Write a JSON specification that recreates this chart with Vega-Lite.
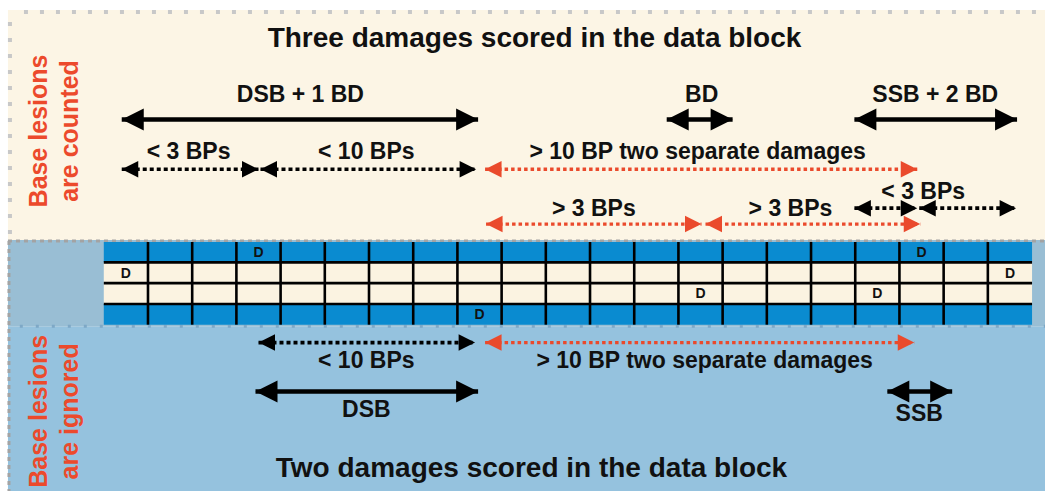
{
  "$schema": "https://vega.github.io/schema/vega-lite/v6.json",
  "width": 1047,
  "height": 493,
  "autosize": {"type": "fit", "contains": "padding"},
  "padding": 0,
  "background": "white",
  "config": {"view": {"stroke": null}, "text": {"font": "Liberation Sans", "fontWeight": "bold"}},
  "datasets": {
    "panels": [
      {"zone": "top", "x1": -2.168, "x2": 21.293, "y1": 10, "y2": 241},
      {"zone": "middle", "x1": -2.168, "x2": 21.293, "y1": 241, "y2": 328},
      {"zone": "bottom", "x1": -2.168, "x2": 21.293, "y1": 328, "y2": 493}
    ],
    "frame": [
      {"style": "dots", "x1": -1.806, "x2": 21.293, "y1": 12, "y2": 12},
      {"style": "dots", "x1": -2.123, "x2": -2.123, "y1": 22, "y2": 238},
      {"style": "dashes", "x1": -2.168, "x2": 21.293, "y1": 242, "y2": 242},
      {"style": "dashes", "x1": -2.145, "x2": -2.145, "y1": 242, "y2": 493},
      {"style": "bluedots", "x1": -1.9, "x2": 21.293, "y1": 327.5, "y2": 327.5}
    ],
    "strands": [
      {"strand": "backbone", "x1": 0, "x2": 21, "y1": 243, "y2": 263.4},
      {"strand": "base", "x1": 0, "x2": 21, "y1": 263.4, "y2": 284.3},
      {"strand": "base", "x1": 0, "x2": 21, "y1": 284.3, "y2": 305.3},
      {"strand": "backbone", "x1": 0, "x2": 21, "y1": 305.3, "y2": 326}
    ],
    "vlines": [
      {"x": 1, "y1": 243, "y2": 326}, {"x": 2, "y1": 243, "y2": 326},
      {"x": 3, "y1": 243, "y2": 326}, {"x": 4, "y1": 243, "y2": 326},
      {"x": 5, "y1": 243, "y2": 326}, {"x": 6, "y1": 243, "y2": 326},
      {"x": 7, "y1": 243, "y2": 326}, {"x": 8, "y1": 243, "y2": 326},
      {"x": 9, "y1": 243, "y2": 326}, {"x": 10, "y1": 243, "y2": 326},
      {"x": 11, "y1": 243, "y2": 326}, {"x": 12, "y1": 243, "y2": 326},
      {"x": 13, "y1": 243, "y2": 326}, {"x": 14, "y1": 243, "y2": 326},
      {"x": 15, "y1": 243, "y2": 326}, {"x": 16, "y1": 243, "y2": 326},
      {"x": 17, "y1": 243, "y2": 326}, {"x": 18, "y1": 243, "y2": 326},
      {"x": 19, "y1": 243, "y2": 326}, {"x": 20, "y1": 243, "y2": 326}
    ],
    "hlines": [
      {"y": 263.4, "x1": 0, "x2": 21},
      {"y": 284.3, "x1": 0, "x2": 21},
      {"y": 305.3, "x1": 0, "x2": 21}
    ],
    "damages": [
      {"x": 0.5, "y": 274.9, "t": "D"},
      {"x": 3.5, "y": 254.2, "t": "D"},
      {"x": 8.5, "y": 316.4, "t": "D"},
      {"x": 13.5, "y": 295.6, "t": "D"},
      {"x": 17.5, "y": 295.6, "t": "D"},
      {"x": 18.5, "y": 254.2, "t": "D"},
      {"x": 20.5, "y": 274.9, "t": "D"}
    ],
    "arrows": [
      {"style": "solid", "x1": 0.406, "x2": 8.468, "y": 120},
      {"style": "solid", "x1": 12.735, "x2": 14.226, "y": 120},
      {"style": "solid", "x1": 16.981, "x2": 20.661, "y": 120},
      {"style": "dotted", "x1": 0.406, "x2": 3.5, "y": 170},
      {"style": "dotted", "x1": 3.545, "x2": 8.423, "y": 170},
      {"style": "red", "x1": 8.626, "x2": 18.403, "y": 170},
      {"style": "dotted", "x1": 16.981, "x2": 18.403, "y": 209},
      {"style": "dotted", "x1": 18.448, "x2": 20.639, "y": 209},
      {"style": "red", "x1": 8.648, "x2": 13.522, "y": 225},
      {"style": "red", "x1": 13.613, "x2": 18.471, "y": 225},
      {"style": "dotted", "x1": 3.5, "x2": 8.4, "y": 344},
      {"style": "red", "x1": 8.626, "x2": 18.335, "y": 344},
      {"style": "solid", "x1": 3.432, "x2": 8.468, "y": 393},
      {"style": "solid", "x1": 17.726, "x2": 19.193, "y": 393}
    ],
    "labels": [
      {"t": "DSB + 1 BD", "x": 4.448, "y": 102},
      {"t": "BD", "x": 13.526, "y": 102},
      {"t": "SSB + 2 BD", "x": 18.81, "y": 102},
      {"t": "< 3 BPs", "x": 1.919, "y": 160},
      {"t": "< 10 BPs", "x": 5.939, "y": 160},
      {"t": "> 10 BP two separate damages", "x": 13.435, "y": 160},
      {"t": "< 3 BPs", "x": 18.538, "y": 199.5},
      {"t": "> 3 BPs", "x": 11.087, "y": 217},
      {"t": "> 3 BPs", "x": 15.535, "y": 217},
      {"t": "< 10 BPs", "x": 5.939, "y": 370},
      {"t": "> 10 BP two separate damages", "x": 13.594, "y": 370},
      {"t": "DSB", "x": 5.939, "y": 419},
      {"t": "SSB", "x": 18.448, "y": 423}
    ],
    "titles": [
      {"t": "Three damages scored in the data block", "x": 9.744, "y": 47},
      {"t": "Two damages scored in the data block", "x": 9.676, "y": 479}
    ],
    "side": [
      {"t": "Base lesions", "x": -1.283, "y": 131.5},
      {"t": "are counted", "x": -0.576, "y": 131.5},
      {"t": "Base lesions", "x": -1.283, "y": 413},
      {"t": "are ignored", "x": -0.576, "y": 413}
    ]
  },
  "layer": [
    {
      "data": {"name": "panels"},
      "mark": {"type": "rect"},
      "encoding": {
        "x": {"field": "x1", "type": "quantitative", "scale": {"domain": [-2.348, 21.293], "nice": false, "zero": false}, "axis": null},
        "x2": {"field": "x2"},
        "y": {"field": "y1", "type": "quantitative", "scale": {"domain": [0, 493], "reverse": true, "nice": false, "zero": false}, "axis": null},
        "y2": {"field": "y2"},
        "fill": {"field": "zone", "type": "nominal", "scale": {"domain": ["top", "middle", "bottom"], "range": ["#fcf5e5", "#99bed4", "#95c2de"]}, "legend": null}
      }
    },
    {
      "data": {"name": "frame"},
      "transform": [{"filter": "datum.style === 'dots'"}],
      "mark": {"type": "rule", "color": "#c8c8c8", "strokeWidth": 4, "strokeDash": [4, 12]},
      "encoding": {
        "x": {"field": "x1", "type": "quantitative", "axis": null},
        "x2": {"field": "x2"},
        "y": {"field": "y1", "type": "quantitative", "axis": null},
        "y2": {"field": "y2"}
      }
    },
    {
      "data": {"name": "frame"},
      "transform": [{"filter": "datum.style === 'dashes'"}],
      "mark": {"type": "rule", "color": "#a3a3a3", "strokeWidth": 3, "strokeDash": [4, 4]},
      "encoding": {
        "x": {"field": "x1", "type": "quantitative", "axis": null},
        "x2": {"field": "x2"},
        "y": {"field": "y1", "type": "quantitative", "axis": null},
        "y2": {"field": "y2"}
      }
    },
    {
      "data": {"name": "frame"},
      "transform": [{"filter": "datum.style === 'bluedots'"}],
      "mark": {"type": "rule", "color": "#7ea8c6", "strokeWidth": 3, "strokeDash": [3, 13]},
      "encoding": {
        "x": {"field": "x1", "type": "quantitative", "axis": null},
        "x2": {"field": "x2"},
        "y": {"field": "y1", "type": "quantitative", "axis": null},
        "y2": {"field": "y2"}
      }
    },
    {
      "data": {"name": "strands"},
      "mark": {"type": "rect"},
      "encoding": {
        "x": {"field": "x1", "type": "quantitative", "axis": null},
        "x2": {"field": "x2"},
        "y": {"field": "y1", "type": "quantitative", "axis": null},
        "y2": {"field": "y2"},
        "color": {"field": "strand", "type": "nominal", "scale": {"domain": ["backbone", "base"], "range": ["#0a8bd0", "#fbf3e1"]}, "legend": null}
      }
    },
    {
      "data": {"name": "vlines"},
      "mark": {"type": "rule", "color": "#000000", "strokeWidth": 2.6},
      "encoding": {
        "x": {"field": "x", "type": "quantitative", "axis": null},
        "y": {"field": "y1", "type": "quantitative", "axis": null},
        "y2": {"field": "y2"}
      }
    },
    {
      "data": {"name": "hlines"},
      "mark": {"type": "rule", "color": "#000000", "strokeWidth": 2.6},
      "encoding": {
        "x": {"field": "x1", "type": "quantitative", "axis": null},
        "x2": {"field": "x2"},
        "y": {"field": "y", "type": "quantitative", "axis": null}
      }
    },
    {
      "data": {"name": "damages"},
      "mark": {"type": "text", "fontSize": 14, "color": "#111111", "align": "center", "baseline": "middle"},
      "encoding": {
        "x": {"field": "x", "type": "quantitative", "axis": null},
        "y": {"field": "y", "type": "quantitative", "axis": null},
        "text": {"field": "t"}
      }
    },
    {
      "data": {"name": "arrows"},
      "transform": [{"filter": "datum.style === 'solid'"}],
      "mark": {"type": "rule", "color": "#000000", "strokeWidth": 4.5},
      "encoding": {
        "x": {"field": "x1", "type": "quantitative", "axis": null},
        "x2": {"field": "x2"},
        "y": {"field": "y", "type": "quantitative", "axis": null}
      }
    },
    {
      "data": {"name": "arrows"},
      "transform": [{"filter": "datum.style === 'dotted'"}],
      "mark": {"type": "rule", "color": "#000000", "strokeWidth": 3.6, "strokeDash": [4, 3]},
      "encoding": {
        "x": {"field": "x1", "type": "quantitative", "axis": null},
        "x2": {"field": "x2"},
        "y": {"field": "y", "type": "quantitative", "axis": null}
      }
    },
    {
      "data": {"name": "arrows"},
      "transform": [{"filter": "datum.style === 'red'"}],
      "mark": {"type": "rule", "color": "#ea4a2c", "strokeWidth": 3.4, "strokeDash": [3.5, 3]},
      "encoding": {
        "x": {"field": "x1", "type": "quantitative", "axis": null},
        "x2": {"field": "x2"},
        "y": {"field": "y", "type": "quantitative", "axis": null}
      }
    },
    {
      "data": {"name": "arrows"},
      "transform": [{"filter": "datum.style === 'solid'"}, {"fold": ["x1", "x2"], "as": ["end", "xe"]}],
      "mark": {"type": "point", "filled": true, "opacity": 1, "size": 484, "color": "#000000", "strokeWidth": 0},
      "encoding": {
        "x": {"field": "xe", "type": "quantitative", "axis": null},
        "y": {"field": "y", "type": "quantitative", "axis": null},
        "shape": {"field": "end", "type": "nominal", "scale": {"domain": ["x1", "x2"], "range": ["M0,0L2,-1L2,1Z", "M0,0L-2,-1L-2,1Z"]}, "legend": null}
      }
    },
    {
      "data": {"name": "arrows"},
      "transform": [{"filter": "datum.style === 'dotted'"}, {"fold": ["x1", "x2"], "as": ["end", "xe"]}],
      "mark": {"type": "point", "filled": true, "opacity": 1, "size": 272, "color": "#000000", "strokeWidth": 0},
      "encoding": {
        "x": {"field": "xe", "type": "quantitative", "axis": null},
        "y": {"field": "y", "type": "quantitative", "axis": null},
        "shape": {"field": "end", "type": "nominal", "scale": {"domain": ["x1", "x2"], "range": ["M0,0L2,-1L2,1Z", "M0,0L-2,-1L-2,1Z"]}, "legend": null}
      }
    },
    {
      "data": {"name": "arrows"},
      "transform": [{"filter": "datum.style === 'red'"}, {"fold": ["x1", "x2"], "as": ["end", "xe"]}],
      "mark": {"type": "point", "filled": true, "opacity": 1, "size": 272, "color": "#ea4a2c", "strokeWidth": 0},
      "encoding": {
        "x": {"field": "xe", "type": "quantitative", "axis": null},
        "y": {"field": "y", "type": "quantitative", "axis": null},
        "shape": {"field": "end", "type": "nominal", "scale": {"domain": ["x1", "x2"], "range": ["M0,0L2,-1L2,1Z", "M0,0L-2,-1L-2,1Z"]}, "legend": null}
      }
    },
    {
      "data": {"name": "labels"},
      "mark": {"type": "text", "fontSize": 23, "color": "#111111", "align": "center", "baseline": "alphabetic"},
      "encoding": {
        "x": {"field": "x", "type": "quantitative", "axis": null},
        "y": {"field": "y", "type": "quantitative", "axis": null},
        "text": {"field": "t"}
      }
    },
    {
      "data": {"name": "titles"},
      "mark": {"type": "text", "fontSize": 28, "color": "#111111", "align": "center", "baseline": "alphabetic"},
      "encoding": {
        "x": {"field": "x", "type": "quantitative", "axis": null},
        "y": {"field": "y", "type": "quantitative", "axis": null},
        "text": {"field": "t"}
      }
    },
    {
      "data": {"name": "side"},
      "mark": {"type": "text", "fontSize": 25, "color": "#ec4a2c", "align": "center", "baseline": "alphabetic", "angle": 270},
      "encoding": {
        "x": {"field": "x", "type": "quantitative", "axis": null},
        "y": {"field": "y", "type": "quantitative", "axis": null},
        "text": {"field": "t"}
      }
    }
  ]
}
